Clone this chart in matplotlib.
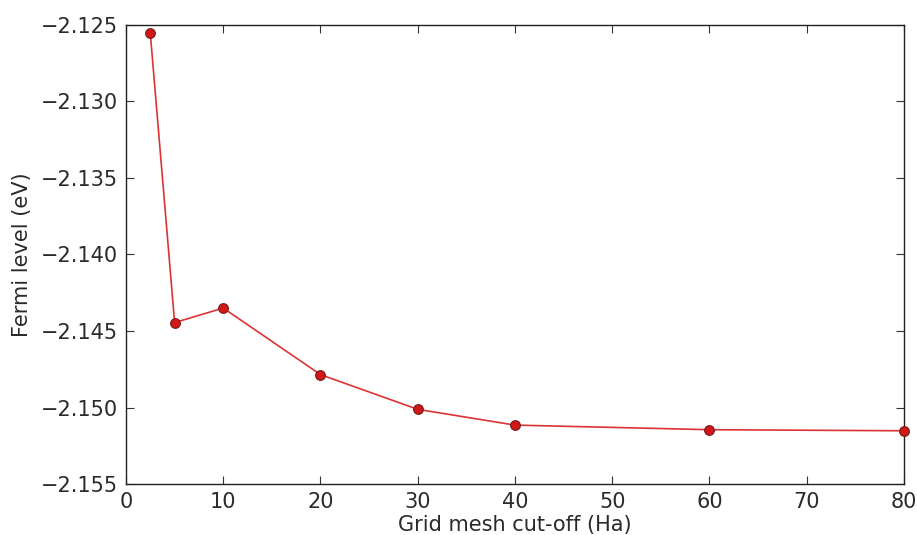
import matplotlib
matplotlib.use('Agg')
import matplotlib.pyplot as plt

# grid mesh cut-off (Ha) vs Fermi level (eV)
cutoff = [2.5, 5, 10, 20, 30, 40, 60, 80]
fermi = [-2.12555, -2.14445, -2.1435, -2.14785, -2.15012, -2.15115, -2.15145, -2.15152]

xticks = [0, 10, 20, 30, 40, 50, 60, 70, 80]
yticks = [-2.155, -2.150, -2.145, -2.140, -2.135, -2.130, -2.125]

plt.rcParams['font.family'] = ['DejaVu Sans']
plt.rcParams['xtick.direction'] = 'in'
plt.rcParams['ytick.direction'] = 'in'
txtcol = '#2a2a2a'

fig = plt.figure(figsize=(9.17, 5.35), dpi=100)
ax = fig.add_axes([0.1374, 0.0953, 0.8484, 0.858])

ax.plot(cutoff, fermi, linestyle='solid', linewidth=1.2, color='#dd3333',
        marker='o', markersize=7, markerfacecolor='#d01818',
        markeredgecolor='#7a1a1a', markeredgewidth=0.8, clip_on=False, zorder=3)

ax.set_xlim(0, 80)
ax.set_ylim(-2.155, -2.125)
ax.set_xticks(xticks)
ax.set_yticks(yticks)
ax.set_yticklabels(['\u2212%.3f' % abs(v) for v in yticks])
ax.tick_params(top=True, right=True, length=6, width=0.8, color='#333333',
               labelcolor=txtcol, labelsize=15, pad=6)
for s in ax.spines.values():
    s.set_color('#222222')
    s.set_linewidth(1.0)

ax.set_xlabel('Grid mesh cut-off (Ha)', color=txtcol, fontsize=15, labelpad=2)
ax.set_ylabel('Fermi level (eV)', color=txtcol, fontsize=15, labelpad=6)

fig.savefig('out.png', dpi=100)
